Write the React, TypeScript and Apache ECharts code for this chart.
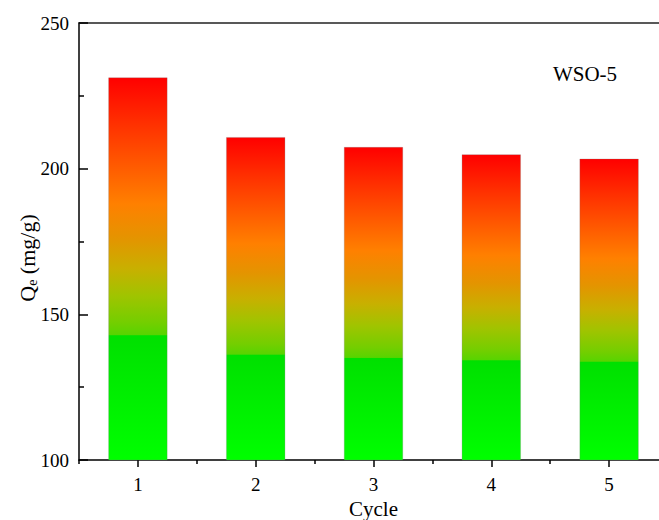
import React, { useEffect, useRef } from "react";
import * as echarts from "echarts";

const categories = ["1", "2", "3", "4", "5"];
const qeValues = [231.3, 210.8, 207.4, 204.9, 203.4];
const yTicks = { min: 100, max: 250, interval: 50 };
const labelText = "WSO-5";
const xTitle = "Cycle";

const FONT = "Liberation Serif";

export default function App() {
  const ref = useRef<HTMLDivElement>(null);
  useEffect(() => {
    if (!ref.current) return;
    const chart = echarts.init(ref.current, null, { renderer: "svg" });
    const grad = new echarts.graphic.LinearGradient(0, 0, 0, 1, [
      { offset: 0, color: "#FF0000" },
      { offset: 0.12, color: "#FF3000" },
      { offset: 0.33, color: "#FF8000" },
      { offset: 0.42, color: "#E49400" },
      { offset: 0.5, color: "#C8B000" },
      { offset: 0.57, color: "#A0C400" },
      { offset: 0.64, color: "#74CE00" },
      { offset: 0.672, color: "#58D400" },
      { offset: 0.675, color: "#00E000" },
      { offset: 1, color: "#00FF00" },
    ]);
    chart.setOption({
      animation: false,
      grid: { left: 79, top: 23, width: 589, height: 437, containLabel: false, outerBoundsMode: "none" },
      xAxis: [
        {
          type: "category",
          data: categories,
          position: "bottom",
          name: xTitle,
          nameLocation: "middle",
          nameGap: 38,
          nameTextStyle: { fontFamily: FONT, fontSize: 21, color: "#000" },
          axisLine: { show: true, lineStyle: { color: "#000", width: 1.5 } },
          axisTick: { show: true, alignWithLabel: true, inside: false, length: 7, lineStyle: { color: "#000", width: 1.5 } },
          axisLabel: { fontFamily: FONT, fontSize: 19, color: "#000", margin: 15 },
        },
        {
          type: "category",
          data: categories,
          position: "bottom",
          axisLine: { show: false },
          axisTick: { show: true, inside: false, length: 4, lineStyle: { color: "#000", width: 1.5 } },
          axisLabel: { show: false },
        },
        {
          type: "category",
          data: categories,
          position: "top",
          axisLine: { show: true, lineStyle: { color: "#222", width: 1.5 } },
          axisTick: { show: false },
          axisLabel: { show: false },
        },
      ],
      yAxis: {
        type: "value",
        min: yTicks.min,
        max: yTicks.max,
        interval: yTicks.interval,
        axisLine: { show: true, lineStyle: { color: "#000", width: 1.5 } },
        axisTick: { show: true, inside: true, length: 9, lineStyle: { color: "#000", width: 1.5 } },
        minorTick: { show: true, splitNumber: 2, length: 5, lineStyle: { color: "#000", width: 1.5 } },
        splitLine: { show: false },
        axisLabel: { fontFamily: FONT, fontSize: 19, color: "#000", margin: 10 },
      },
      series: [
        {
          type: "bar",
          data: qeValues,
          xAxisIndex: 0,
          barWidth: 59,
          itemStyle: { color: grad, borderColor: "rgba(120,120,120,0.5)", borderWidth: 0.5 },
        },
      ],
      graphic: [
        {
          type: "text",
          x: 585,
          y: 74,
          style: {
            text: labelText,
            fontFamily: FONT,
            fontSize: 21,
            fill: "#000",
            align: "center",
            verticalAlign: "middle",
          },
        },
        {
          type: "text",
          x: 27,
          y: 258,
          rotation: Math.PI / 2,
          style: {
            text: "{q|Q}{s|e}{q| (mg/g)}",
            align: "center",
            verticalAlign: "middle",
            rich: {
              q: { fontFamily: FONT, fontSize: 22, fill: "#000" },
              s: { fontFamily: FONT, fontSize: 14, fill: "#000", padding: [11, 0, 0, 0] },
            },
          },
        },
      ],
    });
    return () => chart.dispose();
  }, []);
  return (
    <div style={{ position: "absolute", left: 0, top: 0, width: 659, height: 520, overflow: "hidden", background: "#fff" }}>
      <div ref={ref} style={{ width: 680, height: 520 }} />
    </div>
  );
}
